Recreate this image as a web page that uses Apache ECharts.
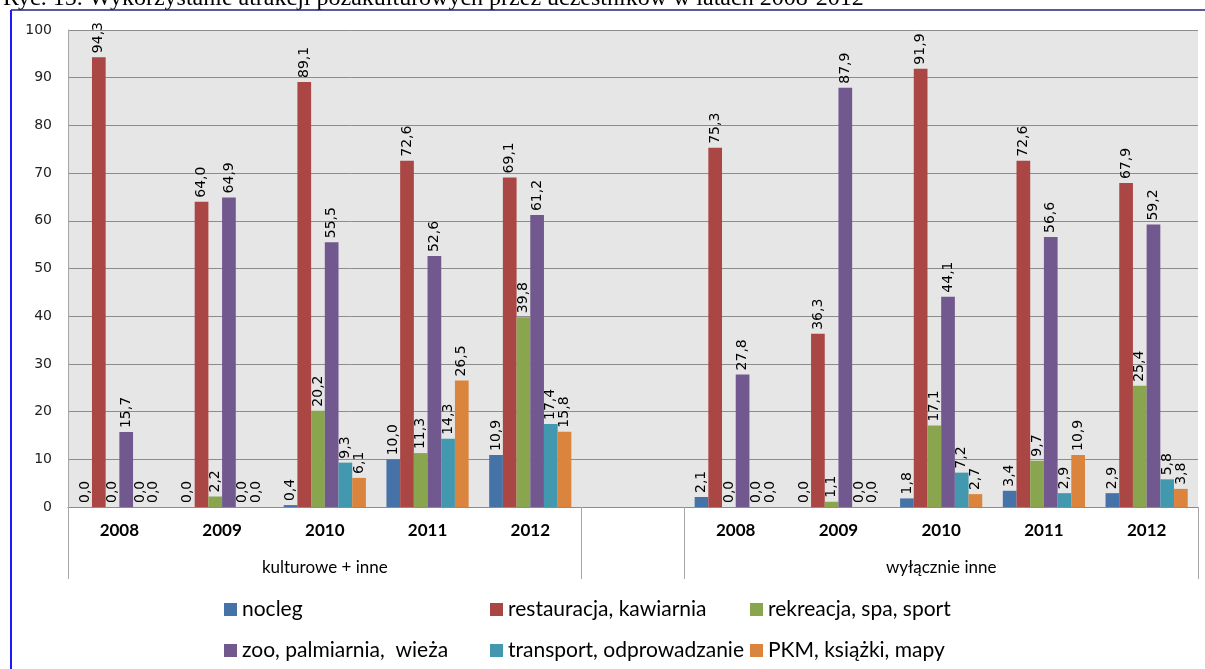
<!DOCTYPE html>
<html>
<head>
<meta charset="utf-8">
<script src="https://cdn.jsdelivr.net/npm/echarts@6/dist/echarts.min.js"></script>
<style>
  html, body { margin: 0; padding: 0; background: #fff; }
  #chart { width: 1205px; height: 669px; }
</style>
</head>
<body>
<div id="chart"></div>
<script>
// kategorie: dwie grupy po 5 lat, z pustą kategorią pomiędzy
const years = ['2008', '2009', '2010', '2011', '2012', '', '2008', '2009', '2010', '2011', '2012']
const groups = ['', '', 'kulturowe + inne', '', '', '', '', '', 'wyłącznie inne', '', '']
const yTicks = [0, 10, 20, 30, 40, 50, 60, 70, 80, 90, 100]

const seriesNames = [
  'nocleg',
  'restauracja, kawiarnia',
  'rekreacja, spa, sport',
  'zoo, palmiarnia,  wieża',
  'transport, odprowadzanie',
  'PKM, książki, mapy',
]

// wartości w %, '-' = pusta kategoria
const nocleg = [0.0, 0.0, 0.4, 10.0, 10.9, '-', 2.1, 0.0, 1.8, 3.4, 2.9]
const restauracja = [94.3, 64.0, 89.1, 72.6, 69.1, '-', 75.3, 36.3, 91.9, 72.6, 67.9]
const rekreacja = [0.0, 2.2, 20.2, 11.3, 39.8, '-', 0.0, 1.1, 17.1, 9.7, 25.4]
const zoo = [15.7, 64.9, 55.5, 52.6, 61.2, '-', 27.8, 87.9, 44.1, 56.6, 59.2]
const transport = [0.0, 0.0, 9.3, 14.3, 17.4, '-', 0.0, 0.0, 7.2, 2.9, 5.8]
const pkm = [0.0, 0.0, 6.1, 26.5, 15.8, '-', 0.0, 0.0, 2.7, 10.9, 3.8]

const seriesData = [nocleg, restauracja, rekreacja, zoo, transport, pkm]
const colors = ['#4572A7', '#AA4643', '#89A54E', '#71588F', '#4198AF', '#DB843D']

const chart = echarts.init(document.getElementById('chart'))

const series = seriesNames.map((name, i) => ({
  name: name,
  type: 'bar',
  data: seriesData[i],
  barGap: '0%',
  barCategoryGap: '20%',
  itemStyle: { color: colors[i] },
  label: {
    show: true,
    position: 'top',
    rotate: 90,
    align: 'left',
    verticalAlign: 'middle',
    distance: 4,
    fontFamily: 'DejaVu Sans',
    fontSize: 14,
    color: '#000',
    formatter: (p) => p.value.toFixed(1).replace('.', ','),
  },
}))

const legendCol = (names, left) => ({
  data: names,
  orient: 'vertical',
  left: left,
  top: 599,
  padding: 0,
  height: 70,
  itemWidth: 13,
  itemHeight: 13,
  itemGap: 20,
  icon: 'rect',
  textStyle: { fontFamily: 'Lato', fontSize: 21, color: '#000' },
})

const option = {
  backgroundColor: '#fff',
  animation: false,
  title: {
    text: 'Ryc. 15. Wykorzystanie atrakcji pozakulturowych przez uczestników w latach 2008-2012',
    left: -2,
    top: -18,
    textStyle: { fontFamily: 'Liberation Serif', fontWeight: 'normal', fontSize: 24, color: '#000' },
  },
  grid: {
    left: 68,
    right: 7,
    top: 30,
    bottom: 162,
    show: true,
    backgroundColor: '#e6e6e6',
    borderWidth: 0,
  },
  legend: [
    legendCol([seriesNames[0], seriesNames[3]], 224),
    legendCol([seriesNames[1], seriesNames[4]], 490),
    legendCol([seriesNames[2], seriesNames[5]], 750),
  ],
  xAxis: [
    {
      type: 'category',
      data: years,
      position: 'bottom',
      axisLine: { lineStyle: { color: '#8c8c8c', width: 1 } },
      axisTick: { show: false },
      axisLabel: { interval: 0, margin: 15, fontFamily: 'Lato', fontWeight: 'bold', fontSize: 17, color: '#000' },
    },
    {
      type: 'category',
      data: groups,
      position: 'bottom',
      axisLine: { show: false },
      axisTick: {
        show: true,
        length: 72,
        interval: (i) => i === 0 || i === 5 || i === 6,
        lineStyle: { color: '#a6a6a6', width: 1 },
      },
      axisLabel: { interval: 0, margin: 52, fontFamily: 'Lato', fontSize: 17, color: '#000' },
    },
  ],
  yAxis: {
    type: 'value',
    min: yTicks[0],
    max: yTicks[yTicks.length - 1],
    interval: 10,
    axisLine: { show: true, lineStyle: { color: '#a6a6a6' } },
    axisTick: { show: false },
    axisLabel: { margin: 16, fontFamily: 'DejaVu Sans', fontSize: 14, color: '#222' },
    splitLine: { lineStyle: { color: '#8c8c8c', width: 1 } },
  },
  graphic: [
    { type: 'line', shape: { x1: 11, y1: 10, x2: 1205, y2: 10 }, style: { stroke: '#23237a', lineWidth: 1.5 }, z: 100 },
    { type: 'line', shape: { x1: 11, y1: 10, x2: 11, y2: 669 }, style: { stroke: '#1a1aff', lineWidth: 2 }, z: 100 },
  ],
  series: series,
}

chart.setOption(option)
</script>
</body>
</html>
